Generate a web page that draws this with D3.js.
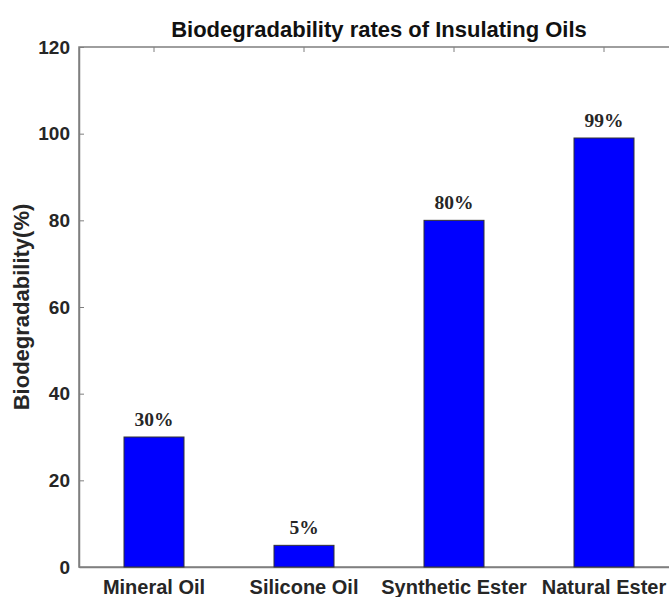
<!DOCTYPE html>
<html>
<head>
<meta charset="utf-8">
<script src="https://cdn.jsdelivr.net/npm/d3@7"></script>
<style>
  body { margin: 0; background: #fff; }
  svg text { font-family: "Liberation Sans", Arial, sans-serif; }
</style>
</head>
<body>
<div id="okvir"></div>
<script>
// podaci
var oils = ["Mineral Oil", "Silicone Oil", "Synthetic Ester", "Natural Ester"];
var rates = [30, 5, 80, 99];
var valueLabels = ["30%", "5%", "80%", "99%"];
var yTicks = [0, 20, 40, 60, 80, 100, 120];

var width = 669, height = 597;
var margin = { top: 47, right: -10, bottom: 30, left: 79 };

var svg = d3.select("#okvir")
    .append("svg")
    .attr("width", width)
    .attr("height", height);

// x skala - kategorije (stupci sirine 0.4)
var x = d3.scaleBand()
    .domain(oils)
    .range([margin.left, width - margin.right])
    .paddingInner(0.6)
    .paddingOuter(0.3);

var y = d3.scaleLinear()
    .domain([0, 120])
    .range([height - margin.bottom, margin.top]);

var axisColor = "#7f7f7f";
var textColor = "#262626";

// okvir (box)
svg.append("rect")
    .attr("x", margin.left)
    .attr("y", margin.top)
    .attr("width", width - margin.right - margin.left)
    .attr("height", height - margin.bottom - margin.top)
    .attr("fill", "none")
    .attr("stroke", axisColor)
    .attr("stroke-width", 1.5);

// y os
var yAxis = svg.append("g")
    .attr("transform", "translate(" + margin.left + ",0)")
    .call(d3.axisLeft(y).tickValues(yTicks).tickSizeInner(-5).tickSizeOuter(0).tickPadding(9));
yAxis.select(".domain").attr("stroke", axisColor).attr("stroke-width", 1.5);
yAxis.selectAll(".tick line").attr("stroke", axisColor);
yAxis.selectAll("text")
    .attr("fill", textColor)
    .style("font-size", "19px")
    .style("font-weight", "bold");

// gornja os s oznakama
var topAxis = svg.append("g")
    .attr("transform", "translate(0," + margin.top + ")")
    .call(d3.axisTop(x).tickSizeInner(-5).tickSizeOuter(0).tickFormat(""));
topAxis.select(".domain").remove();
topAxis.selectAll(".tick line").attr("stroke", axisColor);

// x os
var xAxis = svg.append("g")
    .attr("transform", "translate(0," + (height - margin.bottom) + ")")
    .call(d3.axisBottom(x).tickSize(0).tickPadding(13));
xAxis.select(".domain").attr("stroke", axisColor).attr("stroke-width", 1.5);
xAxis.selectAll("text")
    .attr("fill", textColor)
    .style("font-size", "20px")
    .style("font-weight", "bold");

// stupci
svg.selectAll(".bar")
    .data(oils)
    .enter()
    .append("rect")
    .attr("class", "bar")
    .attr("x", d => x(d))
    .attr("y", (d, i) => y(rates[i]))
    .attr("width", x.bandwidth())
    .attr("height", (d, i) => y(0) - y(rates[i]))
    .attr("fill", "#0000ff")
    .attr("stroke", "#333")
    .attr("stroke-width", 1);

// brojevi iznad stupaca
svg.selectAll(".val")
    .data(oils)
    .enter()
    .append("text")
    .attr("class", "val")
    .attr("x", d => x(d) + x.bandwidth() / 2)
    .attr("y", (d, i) => y(rates[i]) - 11)
    .attr("text-anchor", "middle")
    .style("font-family", "'Liberation Serif', 'Times New Roman', serif")
    .style("font-size", "19.5px")
    .style("font-weight", "bold")
    .attr("fill", textColor)
    .text((d, i) => valueLabels[i]);

// naslov
svg.append("text")
    .attr("x", (margin.left + width - margin.right) / 2)
    .attr("y", 37)
    .attr("text-anchor", "middle")
    .style("font-size", "22px")
    .style("font-weight", "bold")
    .attr("fill", "#111")
    .text("Biodegradability rates of Insulating Oils");

// oznaka y osi
svg.append("text")
    .attr("transform", "rotate(-90)")
    .attr("x", -(margin.top + height - margin.bottom) / 2)
    .attr("y", 29)
    .attr("text-anchor", "middle")
    .style("font-size", "22px")
    .style("font-weight", "bold")
    .attr("fill", textColor)
    .text("Biodegradability(%)");
</script>
</body>
</html>
